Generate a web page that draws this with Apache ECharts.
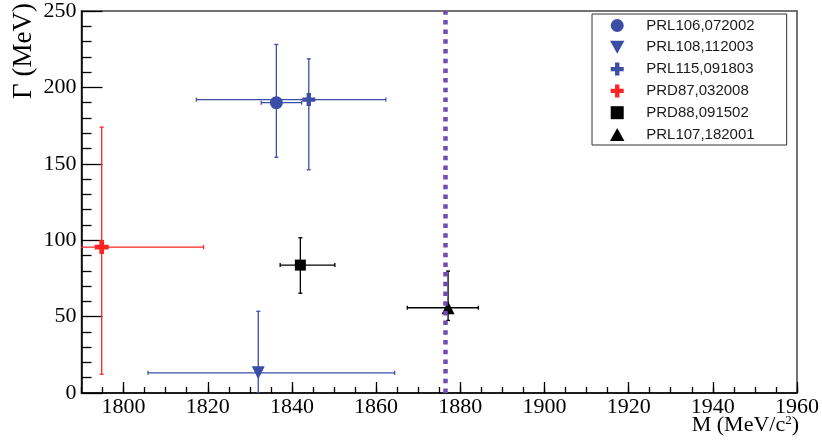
<!DOCTYPE html>
<html>
<head>
<meta charset="utf-8">
<script src="https://cdn.jsdelivr.net/npm/echarts@6/dist/echarts.min.js"></script>
<style>
  html, body { margin: 0; padding: 0; background: #fff; }
  #chart { width: 822px; height: 446px; }
</style>
</head>
<body>
<div id="chart"></div>
<script>
// ---- data ----
const legendNames   = ['PRL106,072002', 'PRL108,112003', 'PRL115,091803', 'PRD87,032008', 'PRD88,091502', 'PRL107,182001'];
const massValues    = [1836.3, 1832.0, 1844.0, 1794.8, 1842.0, 1877.1];
const widthValues   = [190.0, 13.2, 192.0, 95.5, 83.7, 55.8];
const massErrMinus  = [3.6, 26.2, 26.7, 30.0, 4.8, 9.7];
const massErrPlus   = [6.0, 32.4, 18.3, 24.2, 8.2, 7.2];
const widthErrMinus = [35.7, 13.2, 45.9, 83.2, 18.4, 8.3];
const widthErrPlus  = [38.1, 40.3, 26.7, 78.5, 17.9, 24.0];
const thresholdMass = [1876.5];
const xTickLabels   = [1800, 1820, 1840, 1860, 1880, 1900, 1920, 1940, 1960];

// ---- styles ----
const BLUE = '#3b4ea6', RED = '#ff2424', BLACK = '#000000';
const colors  = [BLUE, BLUE, BLUE, RED, BLACK, BLACK];
const crossPath = 'path://M-1,-3 L1,-3 L1,-1 L3,-1 L3,1 L1,1 L1,3 L-1,3 L-1,1 L-3,1 L-3,-1 L-1,-1 Z';
const downTri  = 'path://M0,0 L2,0 L1,1.8 Z';
const upTri    = 'path://M1,0 L2,1.8 L0,1.8 Z';
const square   = 'path://M0,0 L1,0 L1,1 L0,1 Z';
const symbols = ['circle', downTri, crossPath, crossPath, square, upTri];
const sizes   = [13, 13, 13, 14, 11, 13];
const serif = '"Liberation Serif", "DejaVu Serif", serif';
const sans  = '"Liberation Sans", Arial, sans-serif';

const chart = echarts.init(document.getElementById('chart'), null, { renderer: 'canvas' });

const errData = legendNames.map((n, i) => [massValues[i], widthValues[i], i]);

const series = [];
series.push({
  type: 'custom',
  name: 'errors',
  xAxisIndex: 0, yAxisIndex: 0,
  clip: true,
  z: 2,
  silent: true,
  data: errData,
  renderItem: function (params, api) {
    const i = api.value(2);
    const c = api.coord([api.value(0), api.value(1)]);
    const l = api.coord([massValues[i] - massErrMinus[i], widthValues[i]]);
    const r = api.coord([massValues[i] + massErrPlus[i], widthValues[i]]);
    const t = api.coord([massValues[i], widthValues[i] + widthErrPlus[i]]);
    const b = api.coord([massValues[i], widthValues[i] - widthErrMinus[i]]);
    const st = { stroke: colors[i], lineWidth: 1.3 };
    const cap = 2;
    return {
      type: 'group',
      children: [
        { type: 'line', shape: { x1: l[0], y1: c[1], x2: r[0], y2: c[1] }, style: st },
        { type: 'line', shape: { x1: c[0], y1: t[1], x2: c[0], y2: b[1] }, style: st },
        { type: 'line', shape: { x1: l[0], y1: c[1] - cap, x2: l[0], y2: c[1] + cap }, style: st },
        { type: 'line', shape: { x1: r[0], y1: c[1] - cap, x2: r[0], y2: c[1] + cap }, style: st },
        { type: 'line', shape: { x1: c[0] - cap, y1: t[1], x2: c[0] + cap, y2: t[1] }, style: st },
        { type: 'line', shape: { x1: c[0] - cap, y1: b[1], x2: c[0] + cap, y2: b[1] }, style: st }
      ]
    };
  },
  markLine: {
    silent: true,
    symbol: 'none',
    label: { show: false },
    lineStyle: { color: '#6e4db2', width: 4.5, type: [4.5, 5.2], cap: 'butt' },
    data: thresholdMass.map(v => ({ xAxis: v }))
  }
});

legendNames.forEach((n, i) => {
  series.push({
    type: 'scatter',
    name: n,
    xAxisIndex: 0, yAxisIndex: 0,
    symbol: symbols[i],
    symbolSize: sizes[i],
    z: 4,
    itemStyle: { color: colors[i], opacity: 1 },
    data: [[massValues[i], widthValues[i]]]
  });
});

const option = {
  animation: false,
  backgroundColor: '#ffffff',
  grid: {
    left: 81.5, right: 23, top: 6, bottom: 53,
    show: true, borderColor: '#444', borderWidth: 1.5, backgroundColor: 'transparent'
  },
  legend: {
    orient: 'vertical',
    left: 592, top: 14,
    padding: [4, 32, 3, 18],
    itemWidth: 48, itemHeight: 13, itemGap: 6.8,
    borderColor: '#333', borderWidth: 1, backgroundColor: '#fff',
    textStyle: { fontFamily: sans, fontSize: 15, color: '#1a1a1a' },
    data: legendNames.map((n, i) => ({ name: n, icon: symbols[i] }))
  },
  xAxis: [{
    type: 'value', min: 1790, max: 1960,
    axisLine: { show: true, onZero: false, lineStyle: { color: '#000', width: 1.5 } },
    axisTick: { show: true, inside: true, length: 11, lineStyle: { color: '#000', width: 1.3 }, customValues: xTickLabels },
    axisLabel: { show: true, margin: 3, fontFamily: serif, fontSize: 22, color: '#000', customValues: xTickLabels,
                 formatter: v => String(v) },
    splitLine: { show: false }
  }, {
    type: 'value', min: 1790, max: 1960, interval: 5, position: 'bottom', offset: 0,
    axisLine: { show: false },
    axisTick: { show: true, inside: true, length: 6, lineStyle: { color: '#000', width: 1.3 } },
    axisLabel: { show: false },
    splitLine: { show: false }
  }],
  yAxis: {
    type: 'value', min: 0, max: 250, interval: 50,
    axisLine: { show: true, onZero: false, lineStyle: { color: '#000', width: 1.5 } },
    axisTick: { show: true, inside: true, length: 21, lineStyle: { color: '#000', width: 1.3 } },
    minorTick: { show: true, splitNumber: 5, length: 10, lineStyle: { color: '#000', width: 1.3 } },
    axisLabel: { show: true, margin: 5, fontFamily: serif, fontSize: 22, color: '#000' },
    splitLine: { show: false }
  },
  graphic: [
    {
      type: 'text', x: 24, y: 51, rotation: Math.PI / 2,
      style: { text: 'Γ (MeV)', font: '27px ' + serif, fill: '#000', align: 'center', verticalAlign: 'middle' }
    },
    {
      type: 'text', right: 23, top: 414,
      style: {
        text: 'M (MeV/c{sup|2})',
        font: '22px ' + serif, fill: '#000',
        rich: { sup: { fontSize: 13, fontFamily: serif, padding: [0, 0, 9, 0] } }
      }
    }
  ],
  series: series
};
chart.setOption(option);
</script>
</body>
</html>
